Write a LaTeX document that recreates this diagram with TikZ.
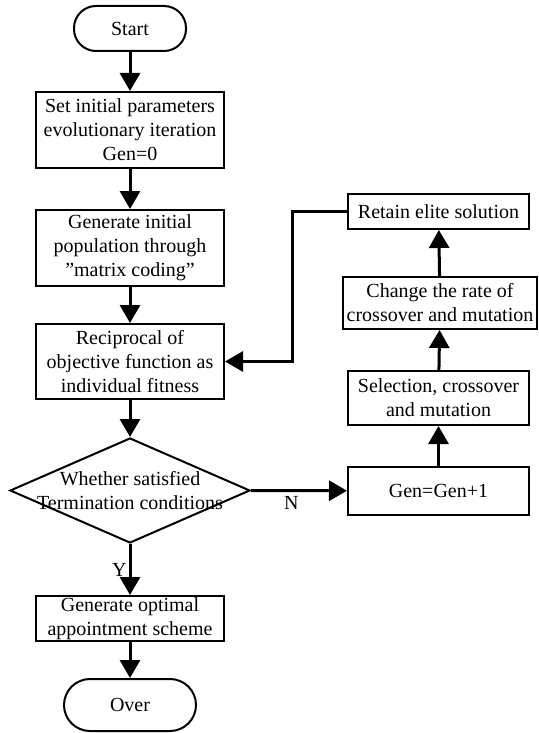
\documentclass[tikz,border=0pt]{standalone}
\usepackage{fontspec}
\setmainfont{Liberation Serif}
\usepackage{tikz}
\usetikzlibrary{arrows.meta}
\usetikzlibrary{shapes.geometric}

\begin{document}
\begin{tikzpicture}[x=1pt, y=-1pt,
    box/.style={draw, line width=2pt, inner sep=0pt, align=center, font=\fontsize{20}{24}\selectfont},
    flow/.style={line width=3pt, -{Triangle[width=20pt,length=18pt]}}]
    \useasboundingbox (0,0) rectangle (538,733);

    \node[box, rounded corners=22pt, minimum width=112pt, minimum height=45pt] (St) at (130,28.5) {Start};
    \node[box, minimum width=188pt, minimum height=76pt] (P) at (130,130) {Set initial parameters\\evolutionary iteration\\Gen=0};
    \node[box, minimum width=188pt, minimum height=76pt] (G) at (130,248) {Generate initial\\population through\\”matrix coding”};
    \node[box, minimum width=188pt, minimum height=75pt] (R) at (130,361.5) {Reciprocal of\\objective function as\\individual fitness};
    \node[draw, diamond, line width=2pt, inner sep=0pt, minimum width=240pt, minimum height=105pt] (W) at (130,490.5) {};
    \node[box, draw=none] (Wt) at (W) {Whether satisfied\\Termination conditions};
    \node[box, minimum width=188pt, minimum height=45pt] (Op) at (130,618.5) {Generate optimal\\appointment scheme};
    \node[box, rounded corners=26pt, minimum width=132pt, minimum height=52pt] (O) at (130,705) {Over};

    \node[box, minimum width=181pt, minimum height=48pt] (Gn) at (438.5,491) {Gen=Gen+1};
    \node[box, minimum width=181pt, minimum height=54pt] (Se) at (438.5,398) {Selection, crossover\\and mutation};
    \node[box, minimum width=194pt, minimum height=52pt] (Ch) at (440,303) {Change the rate of\\crossover and mutation};
    \node[box, minimum width=181pt, minimum height=35pt] (Rt) at (438.5,211.5) {Retain elite solution};
    \coordinate (K) at (292,361.5);

    \draw[flow] (St) -- (P);
    \draw[flow] (P) -- (G);
    \draw[flow] (G) -- (R);
    \draw[flow] (R) -- (W);
    \draw[flow] (W) -- node[left, inner sep=2pt, font=\fontsize{20}{24}\selectfont] {Y} (Op);
    \draw[flow] (Op) -- (O);
    \draw[flow] (W.east) -- node[pos=0.42, below, inner sep=4pt, font=\fontsize{20}{24}\selectfont] {N} (Gn);
    \draw[flow] (Gn) -- (Se);
    \draw[flow] (Se) -- (Ch);
    \draw[flow] (Ch) -- (Rt);
    \draw[flow] (Rt.west) -| (K) -- (R.east);
\end{tikzpicture}
\end{document}
